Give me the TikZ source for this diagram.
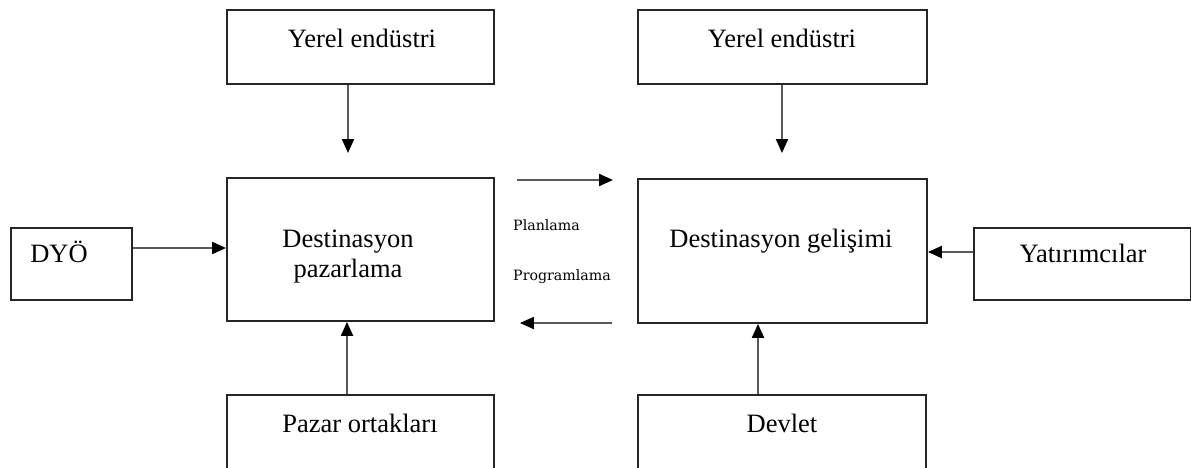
\documentclass[tikz,border=0pt]{standalone}
\usepackage{fontspec}
\setmainfont{Liberation Serif}
\newfontfamily\slabfont{DejaVu Serif}
\usetikzlibrary{arrows.meta,calc}

\begin{document}
\begin{tikzpicture}[x=1pt,y=-1pt,
  box/.style={draw=black!85, line width=1.9pt, inner sep=0pt, anchor=north west},
  lbl/.style={anchor=base, inner sep=0pt, text=black, font=\fontsize{26.5}{30}\selectfont},
  note/.style={anchor=base west, inner sep=0pt, text=black, font=\slabfont\fontsize{14.2}{16}\selectfont},
  arr/.style={draw=black!65, line width=2.1pt, -{Triangle[length=14pt,width=12pt,color=black]}}
]
% page frame
\clip (0,0) rectangle (1191,467);
\fill[white] (0,0) rectangle (1191,467);

% boxes
\node[box, minimum width=267pt, minimum height=74pt]  (yl)  at (226,9)   {};
\node[box, minimum width=289pt, minimum height=74pt]  (yr)  at (637,9)   {};
\node[box, minimum width=267pt, minimum height=143pt] (ml)  at (226,177) {};
\node[box, minimum width=289pt, minimum height=144pt] (mr)  at (637,178) {};
\node[box, minimum width=121pt, minimum height=72pt]  (dyo) at (10,227)  {};
\node[box, minimum width=217pt, minimum height=72pt]  (yat) at (973,227) {};
\node[box, minimum width=267pt, minimum height=100pt] (po)  at (226,394) {};
\node[box, minimum width=288pt, minimum height=100pt] (dv)  at (637,394) {};

% box texts
\node[lbl] (yl-t)  at (362,47)  {Yerel endüstri};
\node[lbl] (yr-t)  at (782,47)  {Yerel endüstri};
\node[lbl] (ml-t1) at (348,247) {Destinasyon};
\node[lbl] (ml-t2) at (348,277) {pazarlama};
\node[lbl] (mr-t)  at (781,247) {Destinasyon gelişimi};
\node[lbl] (dyo-t) at (59,262)  {DYÖ};
\node[lbl] (yat-t) at (1083,262) {Yatırımcılar};
\node[lbl] (po-t)  at (360,432) {Pazar ortakları};
\node[lbl] (dv-t)  at (782,432) {Devlet};

% labels between the two main boxes
\node[note] (pl) at (513,230) {Planlama};
\node[note] (pg) at (513,280) {Programlama};

% connector positions
\coordinate (xa) at (348,0);
\coordinate (xb) at (782,0);
\coordinate (xc) at (347,0);
\coordinate (xd) at (758,0);
\coordinate (ya) at (0,248);
\coordinate (yb) at (0,252);
\coordinate (yc) at (0,180);
\coordinate (yd) at (0,323);

% connectors
\draw[arr, shorten >=24pt] (yl.south -| xa) -- (ml.north -| xa);
\draw[arr, shorten >=25pt] (yr.south -| xb) -- (mr.north -| xb);
\draw[arr] (dyo.east |- ya) -- (ml.west |- ya);
\draw[arr] (yat.west |- yb) -- (mr.east |- yb);
\draw[arr] (po.north -| xc) -- (ml.south -| xc);
\draw[arr] (dv.north -| xd) -- (mr.south -| xd);
\draw[arr, shorten <=22pt, shorten >=24pt] (ml.east |- yc) -- (mr.west |- yc);
\draw[arr, shorten <=25pt, shorten >=25pt] (mr.west |- yd) -- (ml.east |- yd);
\end{tikzpicture}
\end{document}
